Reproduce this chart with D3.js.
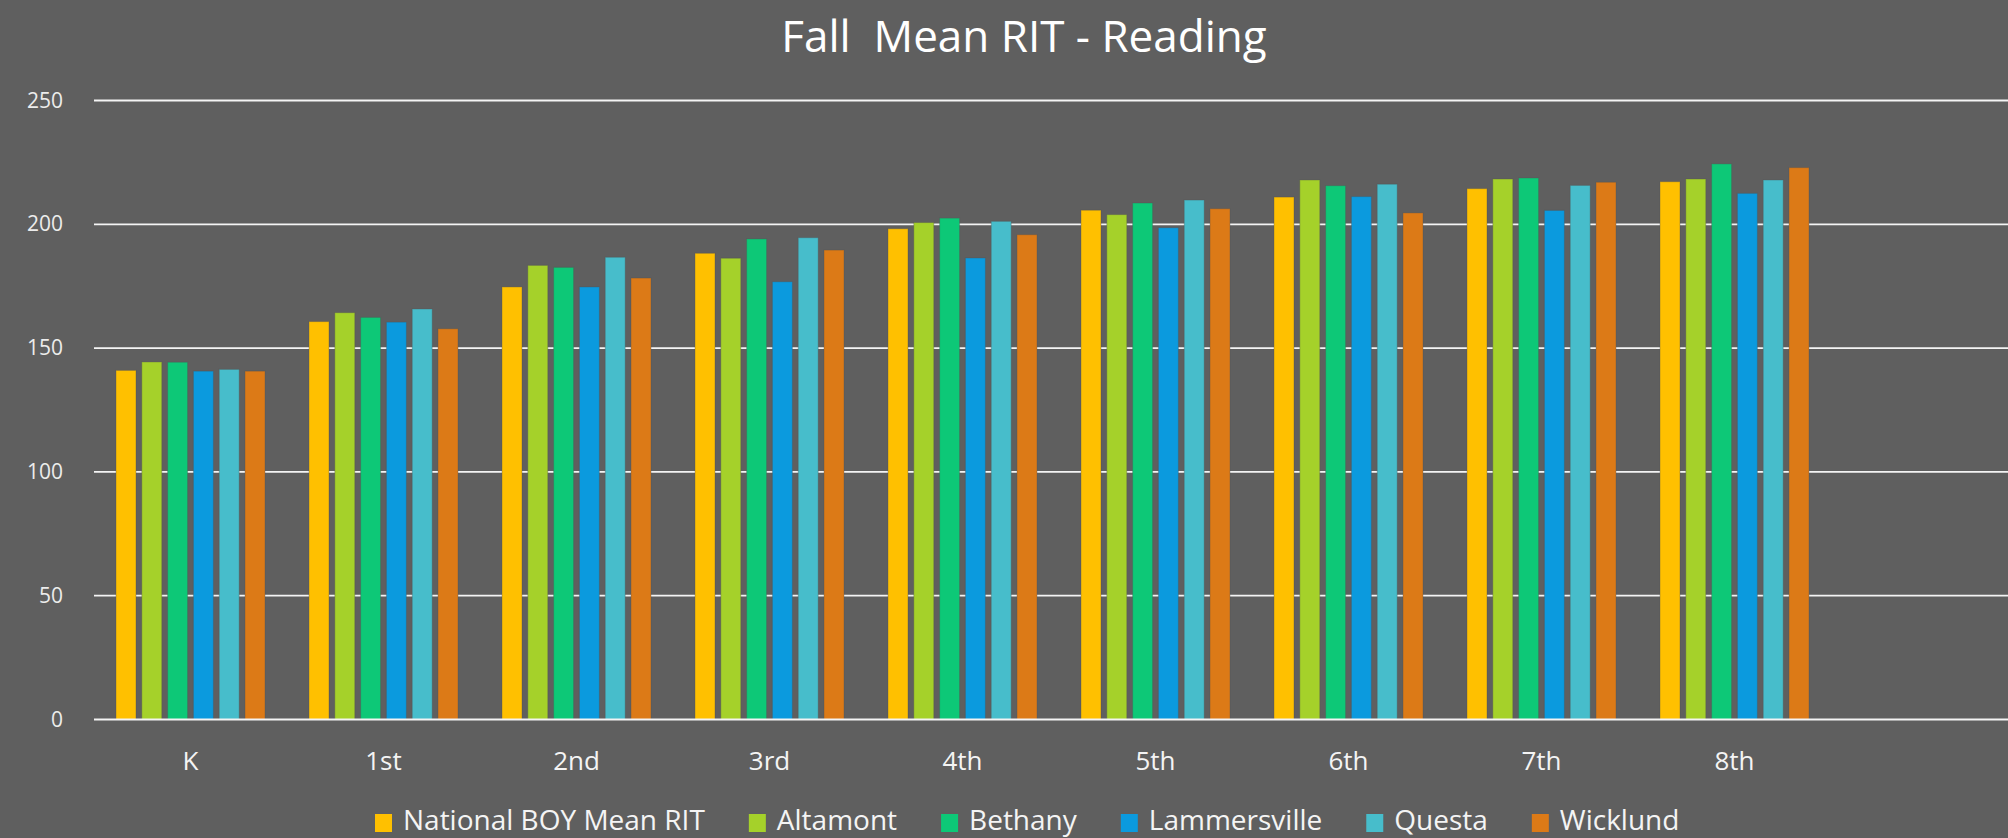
<!DOCTYPE html>
<html>
<head>
<meta charset="utf-8">
<script src="https://cdn.jsdelivr.net/npm/d3@7"></script>
<style>
  body { margin: 0; background: #5f5f5f; }
  svg { display: block; font-family: 'Open Sans', sans-serif; }
</style>
</head>
<body>
<div class="canvas"></div>
<script>
const grades = ['K', '1st', '2nd', '3rd', '4th', '5th', '6th', '7th', '8th']
const schools = ['National BOY Mean RIT', 'Altamont', 'Bethany', 'Lammersville', 'Questa', 'Wicklund']
const colors = ['#ffc000', '#a5d12a', '#0dc877', '#0b9ade', '#47bdcb', '#dc7a17']

// one array per series, K..8th
const national = [141.0, 160.7, 174.7, 188.3, 198.2, 205.7, 211.0, 214.4, 217.2]
const altamont = [144.4, 164.3, 183.4, 186.3, 200.7, 203.9, 217.9, 218.3, 218.3]
const bethany = [144.3, 162.4, 182.6, 194.1, 202.5, 208.6, 215.6, 218.7, 224.4]
const lammersville = [140.7, 160.5, 174.7, 176.8, 186.4, 198.6, 211.2, 205.6, 212.5]
const questa = [141.4, 165.8, 186.7, 194.6, 201.2, 209.8, 216.2, 215.7, 217.9]
const wicklund = [140.7, 157.8, 178.3, 189.6, 195.8, 206.3, 204.6, 217.0, 222.9]
const yTicks = [0, 50, 100, 150, 200, 250]

const series = [national, altamont, bethany, lammersville, questa, wicklund]

const width = 2008, height = 838
const margin = {top: 100.5, right: 0, bottom: 118.5, left: 94}
const graphHeight = height - margin.top - margin.bottom

const svg = d3.select('.canvas').append('svg').attr('width', width).attr('height', height)
svg.append('rect').attr('width', width).attr('height', height).attr('fill', '#5f5f5f')

const graph = svg.append('g').attr('transform', `translate(${margin.left}, ${margin.top})`)

const y = d3.scaleLinear().domain([0, 250]).range([graphHeight, 0])

// category bands, 193px each
const x0 = d3.scaleBand().domain(grades).range([0, 193 * grades.length])
const x1 = d3.scaleBand().domain(schools).range([22, 171]).paddingInner(0.225)

// gridlines
graph.append('g').selectAll('line')
    .data(yTicks.filter(d => d > 0))
    .enter().append('line')
        .attr('x1', 0).attr('x2', width - margin.left)
        .attr('y1', d => y(d)).attr('y2', d => y(d))
        .attr('stroke', '#f4f4f4').attr('stroke-width', 1.8)

// y labels
graph.append('g').selectAll('text')
    .data(yTicks)
    .enter().append('text')
        .attr('x', -31).attr('y', d => y(d) + 7)
        .attr('text-anchor', 'end')
        .attr('fill', '#ececec').attr('font-size', 21)
        .text(d => d)

// bars
const groups = graph.selectAll('.grp')
    .data(grades)
    .enter().append('g')
        .attr('class', 'grp')
        .attr('transform', d => `translate(${x0(d)}, 0)`)

groups.selectAll('rect')
    .data((g, gi) => schools.map((s, si) => ({school: s, value: series[si][gi], color: colors[si]})))
    .enter().append('rect')
        .attr('x', d => x1(d.school))
        .attr('width', x1.bandwidth())
        .attr('y', d => y(d.value))
        .attr('height', d => graphHeight - y(d.value))
        .attr('fill', d => d.color)
        .attr('stroke', 'rgba(80,80,80,0.35)').attr('stroke-width', 1)

// baseline
graph.append('line')
    .attr('x1', 0).attr('x2', width - margin.left)
    .attr('y1', graphHeight).attr('y2', graphHeight)
    .attr('stroke', '#f4f4f4').attr('stroke-width', 2)

// x labels
graph.append('g').selectAll('text')
    .data(grades)
    .enter().append('text')
        .attr('x', d => x0(d) + x0.bandwidth() / 2)
        .attr('y', graphHeight + 50)
        .attr('text-anchor', 'middle')
        .attr('fill', '#f4f4f4').attr('font-size', 26)
        .text(d => d)

// title
svg.append('text')
    .attr('x', 1024).attr('y', 52)
    .attr('text-anchor', 'middle')
    .attr('fill', '#ffffff').attr('font-size', 44)
    .text('Fall  Mean RIT - Reading')
    .style('white-space', 'pre')

// legend
const legend = svg.append('g').attr('transform', 'translate(375, 830)')
let lx = 0
schools.forEach((s, i) => {
    const item = legend.append('g').attr('transform', `translate(${lx}, 0)`)
    item.append('rect').attr('x', 0).attr('y', -16).attr('width', 17).attr('height', 18).attr('fill', colors[i])
    const t = item.append('text').attr('x', 28).attr('y', 0)
        .attr('fill', '#f4f4f4').attr('font-size', 28).text(s)
    lx += 28 + t.node().getComputedTextLength() + 44
})
</script>
</body>
</html>
